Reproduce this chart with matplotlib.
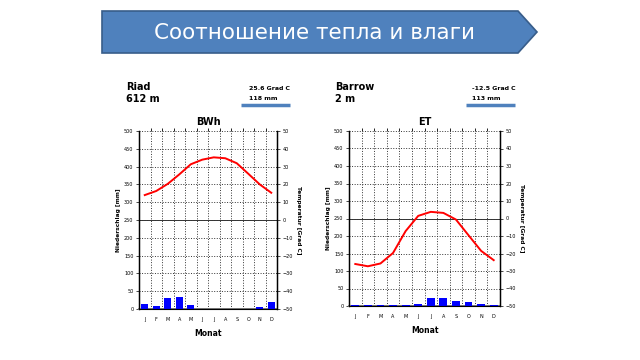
import numpy as np
import matplotlib.pyplot as plt
from matplotlib.patches import Polygon

months = ['J', 'F', 'M', 'A', 'M', 'J', 'J', 'A', 'S', 'O', 'N', 'D']

# Riad (BWh)
riad_temp = [14.0, 16.3, 20.3, 25.6, 31.3, 33.9, 35.2, 34.7, 31.9, 26.0, 20.0, 15.3]
riad_prec = [13, 8, 30, 34, 10, 0, 0, 0, 0, 0, 6, 19]

# Barrow (ET)
barrow_temp = [-26.0, -27.3, -25.7, -19.7, -7.2, 1.5, 3.8, 3.2, -0.6, -9.6, -18.5, -23.8]
barrow_prec = [4, 4, 4, 4, 4, 7, 24, 23, 14, 12, 7, 4]

W, H = 640, 360
fig = plt.figure(figsize=(6.4, 3.6), dpi=100)
fig.patch.set_facecolor('white')

# banner arrow
bg = fig.add_axes([0, 0, 1, 1])
bg.set_xlim(0, W)
bg.set_ylim(H, 0)
bg.axis('off')
bg.add_patch(Polygon([(102, 11), (518, 11), (537, 32), (518, 53), (102, 53)],
                     closed=True, facecolor='#4F81BD', edgecolor='#385D8A', lw=1.2))
bg.text(314, 33, 'Соотношение тепла и влаги', color='white', fontsize=15.5,
        ha='center', va='center', family='DejaVu Sans')


def climate(box, name, alt, tmean, psum, code, temp, prec, hdr):
    x0, y0, x1, y1 = box
    ax = fig.add_axes([x0 / W, 1 - y1 / H, (x1 - x0) / W, (y1 - y0) / H])
    pos = np.arange(12) + 0.5
    ax.bar(pos, prec, width=0.62, color='#0000FF', zorder=3)
    ax.set_xlim(0, 12)
    ax.set_ylim(0, 500)
    ax.set_yticks(np.arange(0, 501, 50))
    ax.set_xticks(pos)
    ax.set_xticklabels(months)
    ax.set_xticks(np.arange(1, 12), minor=True)
    ax.grid(True, which='minor', axis='x', ls=':', color='#333333', lw=0.7)
    ax.grid(True, which='major', axis='y', ls=':', color='#333333', lw=0.7)
    ax.axhline(250, color='#333333', lw=0.7, zorder=2)
    ax.tick_params(axis='x', which='major', length=0, labelsize=3.5, pad=6)
    ax.tick_params(axis='x', which='minor', length=2, top=True, bottom=False)
    ax.tick_params(axis='y', labelsize=3.5, length=2, width=0.5, pad=2)
    ax.spines['top'].set_visible(False)
    ax.spines['left'].set_linewidth(1.0)
    ax.spines['bottom'].set_linewidth(1.4)
    ax.spines['bottom'].set_color('#777777')
    ax.set_ylabel('Niederschlag [mm]', fontsize=4.2, fontweight='bold', labelpad=2)
    ax.set_xlabel('Monat', fontsize=5.5, fontweight='bold', labelpad=5)

    ax2 = ax.twinx()
    ax2.plot(pos, temp, color='red', lw=1.4, zorder=4)
    ax2.set_ylim(-50, 50)
    ax2.set_yticks(np.arange(-50, 51, 10))
    ax2.tick_params(axis='y', labelsize=3.5, length=2, width=0.5, pad=2)
    ax2.spines['top'].set_visible(False)
    ax2.spines['right'].set_linewidth(1.0)
    ax2.set_ylabel('Temperatur [Grad C]', fontsize=4.2, fontweight='bold',
                   rotation=270, labelpad=6)

    ax.set_title(code, fontsize=7, fontweight='bold', pad=4)

    hx, hy, rx, bx0, bx1 = hdr
    bg.text(hx, hy, name, fontsize=7, fontweight='bold', va='center', ha='left')
    bg.text(hx, hy + 12, alt, fontsize=7, fontweight='bold', va='center', ha='left')
    bg.text(rx, 89, tmean, fontsize=4.5, fontweight='bold', va='center', ha='left')
    bg.text(rx, 99, psum, fontsize=4.5, fontweight='bold', va='center', ha='left')
    bg.plot([bx0, bx1], [105, 105], color='#4F81BD', lw=2.5, solid_capstyle='butt')


climate((139, 131, 277, 309), 'Riad', '612 m', '25.6 Grad C', '118 mm', 'BWh',
        riad_temp, riad_prec, (126, 87, 249, 241, 290))
climate((349, 131, 500, 306), 'Barrow', '2 m', '-12.5 Grad C', '113 mm', 'ET',
        barrow_temp, barrow_prec, (335, 87, 472, 466, 515))

fig.savefig('out.png', dpi=100)
